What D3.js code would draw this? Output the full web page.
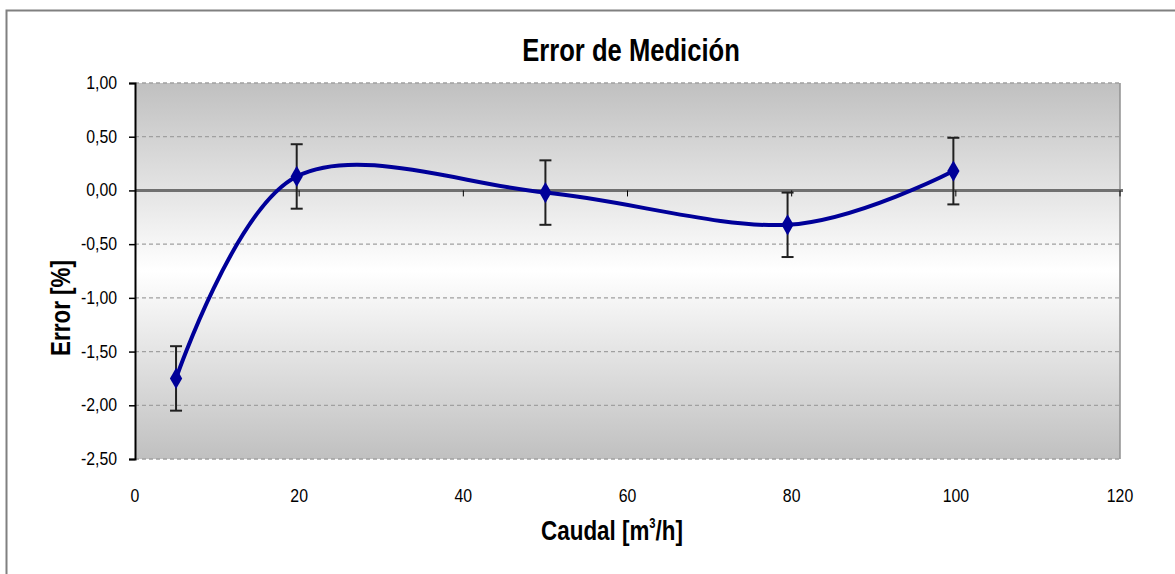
<!DOCTYPE html>
<html>
<head>
<meta charset="utf-8">
<script src="https://cdn.jsdelivr.net/npm/d3@7"></script>
<style>
  body { margin: 0; background: #fff; }
  svg { display: block; }
  text { font-family: "Liberation Sans Narrow", "Arial Narrow", "Liberation Sans", Arial, sans-serif; }
</style>
</head>
<body>
<svg id="chart"></svg>
<script>
const width = 1175;
const height = 574;
const margin = {top: 83, right: 55, bottom: 115, left: 135};

// data
const caudal = [5, 19.7, 50, 79.5, 99.7];
const error = [-1.75, 0.13, -0.02, -0.32, 0.18];
const errorBar = [0.3, 0.3, 0.3, 0.3, 0.31];
const xTicks = [0, 20, 40, 60, 80, 100, 120];
const yTicks = [1, 0.5, 0, -0.5, -1, -1.5, -2, -2.5];

const points = caudal.map((c, i) => ({x: c, y: error[i], e: errorBar[i]}));

const svg = d3.select('#chart')
  .attr('width', width)
  .attr('height', height);

// outer frame
svg.append('path')
  .attr('d', `M6.5,${height} V10.5 H${width}`)
  .attr('fill', 'none')
  .attr('stroke', '#808080')
  .attr('stroke-width', 2);

const x = d3.scaleLinear().domain([0, 120]).range([margin.left, width - margin.right]);
const y = d3.scaleLinear().domain([-2.5, 1]).range([height - margin.bottom, margin.top]);

const grad = svg.append('defs').append('linearGradient')
  .attr('id', 'bg').attr('x1', 0).attr('y1', 0).attr('x2', 0).attr('y2', 1);
grad.append('stop').attr('offset', '0%').attr('stop-color', '#c0c0c0');
grad.append('stop').attr('offset', '50%').attr('stop-color', '#ffffff');
grad.append('stop').attr('offset', '100%').attr('stop-color', '#c0c0c0');

svg.append('rect')
  .attr('x', x(0)).attr('y', y(1))
  .attr('width', x(120) - x(0)).attr('height', y(-2.5) - y(1))
  .attr('fill', 'url(#bg)');

// dashed gridlines
svg.append('g')
  .selectAll('line')
  .data(yTicks.filter(d => d !== 0))
  .join('line')
  .attr('x1', x(0)).attr('x2', x(120))
  .attr('y1', d => y(d)).attr('y2', d => y(d))
  .attr('stroke', '#a0a0a0')
  .attr('stroke-width', 1.3)
  .attr('stroke-dasharray', '4,3');

// right border of the plot
svg.append('line')
  .attr('x1', x(120)).attr('x2', x(120))
  .attr('y1', y(1)).attr('y2', y(-2.5))
  .attr('stroke', '#909090').attr('stroke-width', 1.5);

// x axis on zero line
svg.append('line')
  .attr('x1', x(0)).attr('x2', x(120) + 3)
  .attr('y1', y(0)).attr('y2', y(0))
  .attr('stroke', '#707070').attr('stroke-width', 3);
svg.append('g')
  .selectAll('line')
  .data(xTicks.slice(1))
  .join('line')
  .attr('x1', d => x(d)).attr('x2', d => x(d))
  .attr('y1', y(0)).attr('y2', y(0) + 6)
  .attr('stroke', '#000').attr('stroke-width', 1);

// y axis
const fmt = d => d3.format('.2f')(d).replace('.', ',').replace('\u2212', '-');
const yAxis = svg.append('g')
  .attr('transform', `translate(${x(0)},0)`)
  .call(d3.axisLeft(y).tickValues(yTicks).tickSize(6).tickFormat(() => ''));
yAxis.select('.domain').attr('stroke', '#000').attr('stroke-width', 2);
yAxis.selectAll('.tick line').attr('stroke', '#000').attr('stroke-width', 1.5);

svg.append('g')
  .selectAll('text')
  .data(yTicks)
  .join('text')
  .attr('transform', d => `translate(117,${y(d) + 6}) scale(0.88,1)`)
  .attr('text-anchor', 'end')
  .attr('font-size', 18)
  .text(fmt);

// x tick labels
svg.append('g')
  .selectAll('text')
  .data(xTicks)
  .join('text')
  .attr('transform', d => `translate(${x(d)},${y(-2.5) + 43}) scale(0.88,1)`)
  .attr('text-anchor', 'middle')
  .attr('font-size', 18)
  .text(d => d);

// error bars
const bars = svg.append('g').attr('stroke', '#202020').attr('stroke-width', 2);
bars.selectAll('line.v')
  .data(points).join('line').attr('class', 'v')
  .attr('x1', d => x(d.x)).attr('x2', d => x(d.x))
  .attr('y1', d => y(d.y + d.e)).attr('y2', d => y(d.y - d.e));
bars.selectAll('line.top')
  .data(points).join('line').attr('class', 'top')
  .attr('x1', d => x(d.x) - 6).attr('x2', d => x(d.x) + 6)
  .attr('y1', d => y(d.y + d.e)).attr('y2', d => y(d.y + d.e));
bars.selectAll('line.bot')
  .data(points).join('line').attr('class', 'bot')
  .attr('x1', d => x(d.x) - 6).attr('x2', d => x(d.x) + 6)
  .attr('y1', d => y(d.y - d.e)).attr('y2', d => y(d.y - d.e));

// smoothed line
const line = d3.line()
  .x(d => x(d.x))
  .y(d => y(d.y))
  .curve(d3.curveCardinal.tension(0));
svg.append('path')
  .datum(points)
  .attr('d', line)
  .attr('fill', 'none')
  .attr('stroke', '#000099')
  .attr('stroke-width', 4);

// diamond markers
svg.append('g')
  .selectAll('path')
  .data(points)
  .join('path')
  .attr('transform', d => `translate(${x(d.x)},${y(d.y)})`)
  .attr('d', d3.symbol(d3.symbolDiamond, 130))
  .attr('fill', '#000099');

// titles (condensed look via horizontal scale)
svg.append('text')
  .attr('transform', 'translate(631,61) scale(0.8,1)')
  .attr('text-anchor', 'middle')
  .attr('font-size', 32).attr('font-weight', 'bold')
  .text('Error de Medición');

const xt = svg.append('text')
  .attr('transform', 'translate(612,540) scale(0.8,1)')
  .attr('text-anchor', 'middle')
  .attr('font-size', 28).attr('font-weight', 'bold');
xt.append('tspan').text('Caudal [m');
xt.append('tspan').attr('font-size', 14).attr('dy', -12).text('3');
xt.append('tspan').attr('dy', 12).text('/h]');

svg.append('text')
  .attr('transform', 'translate(70,308) rotate(-90) scale(0.8,1)')
  .attr('text-anchor', 'middle')
  .attr('font-size', 28).attr('font-weight', 'bold')
  .text('Error [%]');
</script>
</body>
</html>
